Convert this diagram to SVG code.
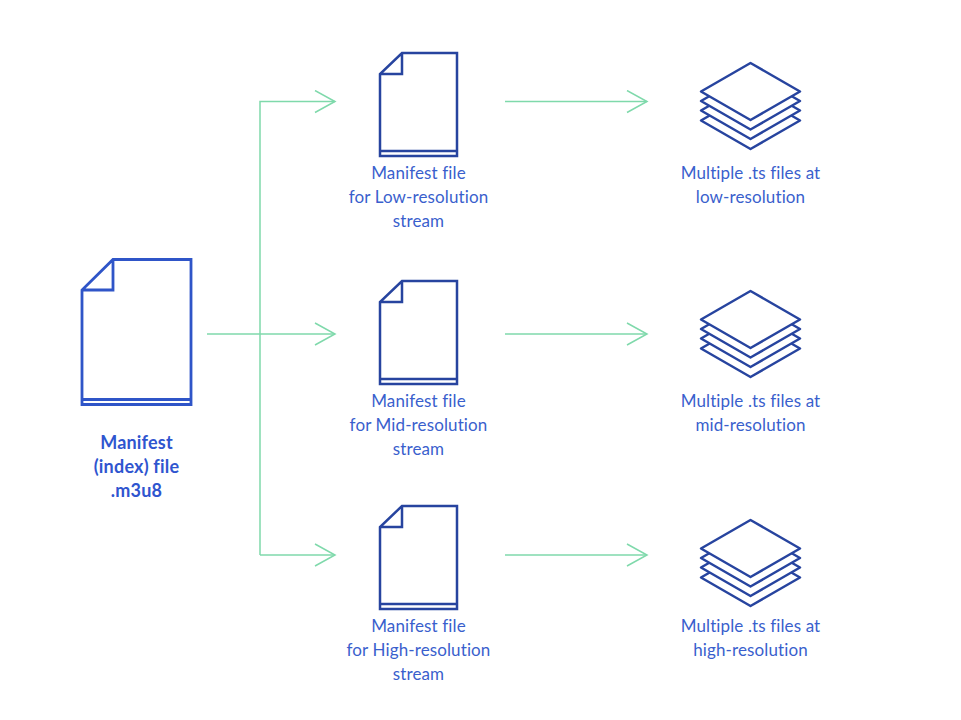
<svg xmlns="http://www.w3.org/2000/svg" width="961" height="720" viewBox="0 0 961 720">
<style>
text{font-family:"Lato","Liberation Sans",sans-serif;font-size:17px;letter-spacing:.12px;font-variant-ligatures:none;fill:#3a5fcd;text-anchor:middle}
.b{font-weight:700;font-size:18px;letter-spacing:.2px;fill:#2f55cf}
.doc{fill:none;stroke:#27449f;stroke-width:2.500;stroke-linejoin:miter}
.big{fill:none;stroke:#2f55c8;stroke-width:2.800}
.con{fill:none;stroke:#7fd9ab;stroke-width:1.500}
.st{fill:#fff;stroke:#27449f;stroke-width:2.500;stroke-linejoin:round}
</style>
<defs>
<marker id="ah" markerUnits="userSpaceOnUse" markerWidth="24" markerHeight="26" refX="21" refY="12" orient="auto"><path d="M1 1L21 12L1 23" fill="none" stroke="#7fd9ab" stroke-width="1.500"/></marker>
<g id="sdoc"><path class="doc" d="M402 53H457V156H380V74ZM402 53V74H380M380 151H457"/></g>
<g id="stack"><path class="st" d="M750.500 92L800 120.500L750.500 149L701 120.500Z"/><path class="st" d="M750.500 82L800 110.500L750.500 139L701 110.500Z"/><path class="st" d="M750.500 72.500L800 101L750.500 129.500L701 101Z"/><path class="st" d="M750.500 63L800 91.500L750.500 120L701 91.500Z"/></g>
</defs>
<g id="connectors">
<path class="con" marker-end="url(#ah)" d="M260 555V101.500H335"/>
<path class="con" marker-end="url(#ah)" d="M207 334H335"/>
<path class="con" marker-end="url(#ah)" d="M260 555H335"/>
<path class="con" marker-end="url(#ah)" d="M505 101.500H647"/>
<path class="con" marker-end="url(#ah)" d="M505 334H647"/>
<path class="con" marker-end="url(#ah)" d="M505 555H647"/>
</g>
<g id="index-file"><path class="big" d="M113 259.500H191V404.500H82V290ZM113 259.500V290H82M82 399.500H191"/>
<text class="b" x="136.500" y="449">Manifest</text><text class="b" x="136.500" y="473">(index) file</text><text class="b" x="136.500" y="497">.m3u8</text></g>
<g id="manifest-low"><use href="#sdoc"/><text x="418.500" y="179">Manifest file</text><text x="418.500" y="203">for Low-resolution</text><text x="418.500" y="227">stream</text></g>
<g id="manifest-mid"><use href="#sdoc" y="228"/><text x="418.500" y="407">Manifest file</text><text x="418.500" y="431">for Mid-resolution</text><text x="418.500" y="455">stream</text></g>
<g id="manifest-high"><use href="#sdoc" y="453"/><text x="418.500" y="632">Manifest file</text><text x="418.500" y="656">for High-resolution</text><text x="418.500" y="680">stream</text></g>
<g id="ts-low"><use href="#stack"/><text x="750.500" y="179">Multiple .ts files at</text><text x="750.500" y="203">low-resolution</text></g>
<g id="ts-mid"><use href="#stack" y="228"/><text x="750.500" y="407">Multiple .ts files at</text><text x="750.500" y="431">mid-resolution</text></g>
<g id="ts-high"><use href="#stack" y="457"/><text x="750.500" y="632">Multiple .ts files at</text><text x="750.500" y="656">high-resolution</text></g>
</svg>
